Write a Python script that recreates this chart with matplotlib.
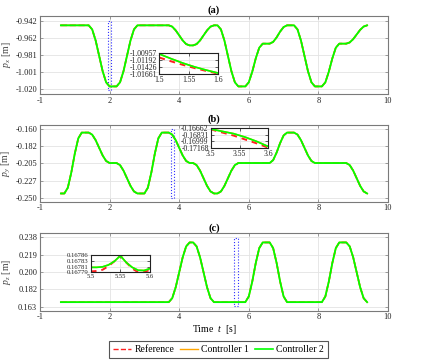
import numpy as np
import matplotlib
matplotlib.use("Agg")
import matplotlib.pyplot as plt
from matplotlib.patches import Rectangle
from matplotlib.lines import Line2D

plt.rcParams["font.family"] = ["Liberation Serif", "DejaVu Serif"]
plt.rcParams["mathtext.fontset"] = "custom"
plt.rcParams["mathtext.rm"] = "Liberation Serif"
plt.rcParams["mathtext.it"] = "Liberation Serif:italic"

# sample times of the trajectory [s]
time = np.round(np.arange(0.6, 9.45, 0.1), 1)

# end-effector position (reference and both controllers overlap)
px = (
    [-0.947] * 9
    + [-0.9517, -0.9645, -0.9820, -0.9995, -1.0123]
    + [-1.017] * 3
    + [-1.0123, -0.9995, -0.9820, -0.9645, -0.9517]
    + [-0.947] * 10
    + [-0.9485, -0.9528, -0.9585, -0.9643, -0.9685]
    + [-0.970] * 2
    + [-0.9685, -0.9643, -0.9585, -0.9528, -0.9485]
    + [-0.947] * 2
    + [-0.9517, -0.9645, -0.9820, -0.9995, -1.0123]
    + [-1.017] * 3
    + [-1.0123, -1.0001, -0.9849, -0.9727]
    + [-0.968] * 3
    + [-0.9660, -0.9608, -0.9542, -0.9490]
    + [-0.947] * 3
    + [-0.9517, -0.9645, -0.9820, -0.9995, -1.0123]
    + [-1.017] * 3
    + [-1.0123, -1.0001, -0.9849, -0.9727]
    + [-0.968] * 3
    + [-0.9666, -0.9628, -0.9575, -0.9522, -0.9484]
    + [-0.947]
)

py = (
    [-0.2445] * 2
    + [-0.2369, -0.2169, -0.1921, -0.1721]
    + [-0.1645] * 3
    + [-0.1672, -0.1745, -0.1845, -0.1945, -0.2018]
    + [-0.2045] * 3
    + [-0.2072, -0.2145, -0.2245, -0.2345, -0.2418]
    + [-0.2445] * 3
    + [-0.2369, -0.2169, -0.1921, -0.1721]
    + [-0.1645] * 3
    + [-0.1672, -0.1745, -0.1845, -0.1945, -0.2018]
    + [-0.2045] * 2
    + [-0.2072, -0.2145, -0.2245, -0.2345, -0.2418]
    + [-0.2445] * 2
    + [-0.2418, -0.2345, -0.2245, -0.2145, -0.2072]
    + [-0.2045] * 10
    + [-0.2007, -0.1907, -0.1783, -0.1683]
    + [-0.1645] * 3
    + [-0.1672, -0.1745, -0.1845, -0.1945, -0.2018]
    + [-0.2045] * 10
    + [-0.2072, -0.2145, -0.2245, -0.2345, -0.2418]
    + [-0.2445]
)

pz = (
    [0.1678] * 32
    + [0.1721, 0.1840, 0.2002, 0.2164, 0.2283]
    + [0.2326] * 2
    + [0.2283, 0.2164, 0.2002, 0.1840, 0.1721]
    + [0.1678] * 10
    + [0.1740, 0.1902, 0.2102, 0.2264]
    + [0.2326] * 3
    + [0.2264, 0.2102, 0.1902, 0.1740]
    + [0.1678] * 11
    + [0.1740, 0.1902, 0.2102, 0.2264]
    + [0.2326] * 3
    + [0.2283, 0.2164, 0.2002, 0.1840, 0.1721]
    + [0.1678]
)

# axis ticks
time_ticks = [0, 2, 4, 6, 8, 10]
time_labels = ["-1", "2", "4", "6", "8", "10"]
px_ticks = [-1.0200, -1.0005, -0.9810, -0.9615, -0.9420]
px_labels = ["-1.020", "-1.001", "-0.981", "-0.962", "-0.942"]
py_ticks = [-0.2500, -0.2275, -0.2050, -0.1825, -0.1600]
py_labels = ["-0.250", "-0.227", "-0.205", "-0.182", "-0.160"]
pz_ticks = [0.16300, 0.18175, 0.20050, 0.21925, 0.23800]
pz_labels = ["0.163", "0.182", "0.200", "0.219", "0.238"]

# zoomed windows (inset data)
zoom_t_a = [1.50, 1.52, 1.54, 1.56, 1.58, 1.60]
zoom_ref_a = [-1.0110, -1.0123, -1.0135, -1.0146, -1.0156, -1.0165]
zoom_ctrl_a = [-1.0098, -1.0114, -1.0129, -1.0142, -1.0153, -1.0163]
zoom_yticks_a = [-1.01661, -1.01426, -1.01192, -1.00957]

zoom_t_b = [3.50, 3.52, 3.54, 3.56, 3.58, 3.60]
zoom_ref_b = [-0.1669, -0.1677, -0.1685, -0.1695, -0.1705, -0.1716]
zoom_ctrl_b = [-0.1668, -0.1674, -0.1680, -0.1689, -0.1700, -0.1713]
zoom_yticks_b = [-0.17168, -0.16999, -0.16831, -0.16662]

zoom_t_c = [5.50, 5.51, 5.52, 5.53, 5.54, 5.55, 5.56, 5.57, 5.58, 5.59, 5.60]
zoom_ref_c = [0.167793, 0.167795, 0.167800, 0.167815, 0.167835, 0.167858,
              0.167830, 0.167805, 0.167790, 0.167790, 0.167800]
zoom_ctrl_c = [0.167810, 0.167810, 0.167812, 0.167820, 0.167835, 0.167858,
               0.167830, 0.167810, 0.167798, 0.167797, 0.167805]
zoom_yticks_c = [0.16779, 0.167813, 0.167837, 0.16786]
zoom_ylabels_c = ["0.16779", "0.16781", "0.16783", "0.16786"]

# blue zoom markers on the main axes: t0, t1, y0, y1
marker_a = [1.94, 2.04, -1.0211, -0.9417]
marker_b = [3.76, 3.85, -0.2510, -0.1600]
marker_c = [5.58, 5.70, 0.1635, 0.2377]

REF_COLOR = "#ff2020"
C1_COLOR = "#ffa500"
C2_COLOR = "#00ff00"
SPINE = "#7a7a7a"


def style_axes(ax, spine_color, labelsize):
    for s in ax.spines.values():
        s.set_color(spine_color)
        s.set_linewidth(0.8)
    ax.tick_params(direction="in", length=2.5, width=0.5, colors=spine_color,
                   labelcolor="#222222", labelsize=labelsize, pad=2,
                   top=True, right=True)
    ax.grid(True, color="#e3e3e3", linewidth=0.6)
    ax.set_axisbelow(True)


def main_panel(rect, title, values, ylabel, ticks, labels, ylim, marker):
    ax = fig.add_axes(rect)
    ax.plot(time, values, "--", color=REF_COLOR, lw=1.2)
    ax.plot(time, values, color=C1_COLOR, lw=1.2)
    ax.plot(time, values, color=C2_COLOR, lw=1.3)
    ax.add_patch(Rectangle((marker[0], marker[2]), marker[1] - marker[0],
                           marker[3] - marker[2], fill=False,
                           edgecolor="#3030ff", linestyle=":", lw=0.8))
    ax.set_xlim(0, 10)
    ax.set_ylim(*ylim)
    ax.set_xticks(time_ticks)
    ax.set_xticklabels(time_labels)
    ax.set_yticks(ticks)
    ax.set_yticklabels(labels)
    ax.set_title(title, fontsize=7.5, fontweight="bold", pad=2)
    ax.set_ylabel(ylabel, fontsize=7, color="#444444")
    ax.yaxis.set_label_coords(-0.078, 0.5)
    style_axes(ax, SPINE, 6)
    return ax


def zoom_panel(rect, t, ref, ctrl, yticks, ylabels, xticks, xlabels, size=5.5):
    ax = fig.add_axes(rect)
    ax.plot(t, ref, "--", color=REF_COLOR, lw=1.4, dashes=(3, 2.5))
    ax.plot(t, ctrl, color=C1_COLOR, lw=1.2)
    ax.plot(t, ctrl, color=C2_COLOR, lw=1.2)
    ax.set_xlim(xticks[0], xticks[-1])
    ax.set_ylim(yticks[0], yticks[-1])
    ax.set_xticks(xticks)
    ax.set_xticklabels(xlabels)
    ax.set_yticks(yticks)
    ax.set_yticklabels(ylabels)
    style_axes(ax, "#222222", size)
    ax.tick_params(pad=1.5)
    return ax


fig = plt.figure(figsize=(4.21, 3.61), dpi=100)

main_panel([0.095, 0.7396, 0.8266, 0.2161], "(a)", px, r"$p_x$ [m]",
           px_ticks, px_labels, (-1.0257, -0.9363), marker_a)
main_panel([0.095, 0.4413, 0.8266, 0.2125], "(b)", py, r"$p_y$ [m]",
           py_ticks, py_labels, (-0.2553, -0.1545), marker_b)
ax_c = main_panel([0.095, 0.1393, 0.8266, 0.2144], "(c)", pz, r"$p_z$ [m]",
                  pz_ticks, pz_labels, (0.1585, 0.2425), marker_c)
ax_c.set_xlabel("Time  $t$  [s]", fontsize=7, labelpad=1)

zoom_panel([0.3784, 0.795, 0.1401, 0.0573], zoom_t_a, zoom_ref_a, zoom_ctrl_a,
           zoom_yticks_a, ["%.5f" % v for v in zoom_yticks_a],
           [1.5, 1.55, 1.6], ["1.5", "1.55", "1.6"])
zoom_panel([0.5005, 0.590, 0.1368, 0.0546], zoom_t_b, zoom_ref_b, zoom_ctrl_b,
           zoom_yticks_b, ["%.5f" % v for v in zoom_yticks_b],
           [3.5, 3.55, 3.6], ["3.5", "3.55", "3.6"])
zoom_panel([0.2154, 0.2460, 0.1409, 0.0470], zoom_t_c, zoom_ref_c, zoom_ctrl_c,
           zoom_yticks_c, zoom_ylabels_c,
           [5.5, 5.55, 5.6], ["5.5", "5.55", "5.6"], size=4.8)

handles = [
    Line2D([], [], color=REF_COLOR, ls="--", lw=1.0),
    Line2D([], [], color=C1_COLOR, lw=1.0),
    Line2D([], [], color=C2_COLOR, lw=1.2),
]
leg = fig.legend(handles, ["Reference", "Controller 1", "Controller 2"],
                 loc="center", bbox_to_anchor=(0.519, 0.031), ncol=3,
                 fontsize=7, fancybox=False, framealpha=1, edgecolor="#555555",
                 handlelength=1.9, handletextpad=0.3, columnspacing=0.6,
                 borderpad=0.4)
leg.get_frame().set_linewidth(0.8)

fig.savefig("out.png", dpi=100)
